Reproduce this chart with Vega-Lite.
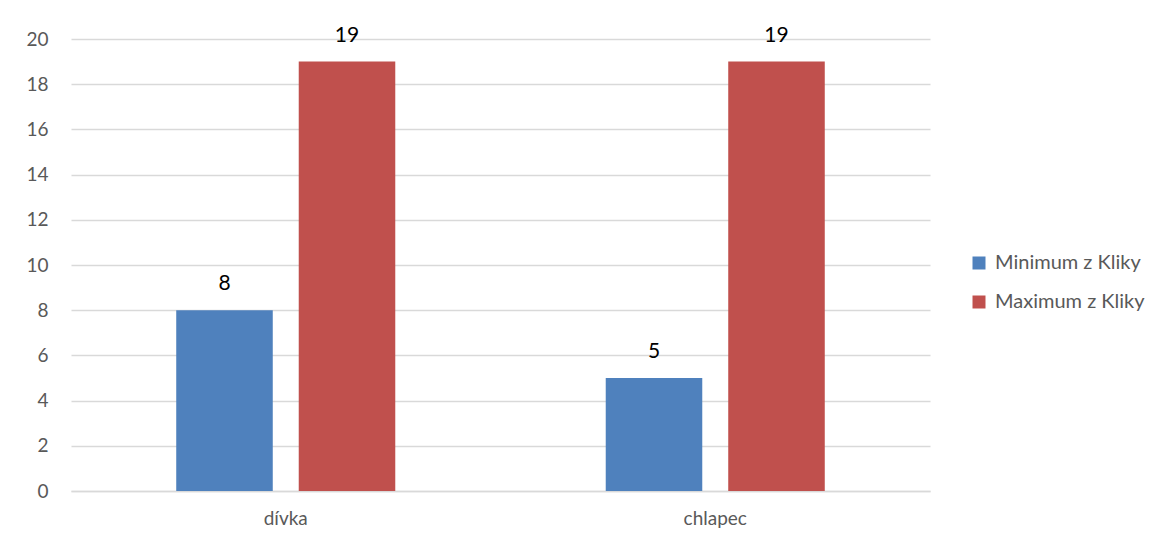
{
  "$schema": "https://vega.github.io/schema/vega-lite/v6.json",
  "autosize": "none",
  "width": 859,
  "height": 452,
  "padding": {"left": 71, "top": 39, "right": 241, "bottom": 54},
  "background": "white",
  "config": {
    "font": "Lato",
    "view": {"stroke": null},
    "axis": {"labelFont": "Lato", "labelColor": "#595959", "labelFontSize": 19, "gridColor": "#d9d9d9", "gridWidth": 1.3, "ticks": false, "title": null, "labelOverlap": false}
  },
  "data": {
    "values": [
      {"pohlavi": "dívka", "serie": "Minimum z Kliky", "hodnota": 8},
      {"pohlavi": "dívka", "serie": "Maximum z Kliky", "hodnota": 19},
      {"pohlavi": "chlapec", "serie": "Minimum z Kliky", "hodnota": 5},
      {"pohlavi": "chlapec", "serie": "Maximum z Kliky", "hodnota": 19}
    ]
  },
  "encoding": {
    "x": {
      "field": "pohlavi", "type": "nominal", "sort": ["dívka", "chlapec"],
      "scale": {"paddingInner": 0, "paddingOuter": 0},
      "axis": {"labelAngle": 0, "labelPadding": 18, "domainColor": "#d9d9d9", "domainWidth": 1.3, "grid": false}
    },
    "xOffset": {
      "field": "serie", "type": "nominal", "sort": ["Minimum z Kliky", "Maximum z Kliky"],
      "scale": {"paddingInner": 0.212, "paddingOuter": 0.859}
    },
    "y": {
      "field": "hodnota", "type": "quantitative",
      "scale": {"domain": [0, 20], "nice": false},
      "axis": {"values": [0, 2, 4, 6, 8, 10, 12, 14, 16, 18, 20], "domain": false, "labelPadding": 23}
    }
  },
  "layer": [
    {
      "mark": {"type": "bar"},
      "encoding": {
        "color": {
          "field": "serie", "type": "nominal",
          "sort": ["Minimum z Kliky", "Maximum z Kliky"],
          "scale": {"domain": ["Minimum z Kliky", "Maximum z Kliky"], "range": ["#4F81BD", "#C0504D"]},
          "legend": {
            "title": null, "orient": "none", "legendX": 898, "legendY": 214,
            "symbolType": "square", "symbolSize": 169, "symbolStrokeWidth": 0,
            "labelFont": "Lato", "labelFontSize": 20, "labelColor": "#595959",
            "labelOffset": 6, "rowPadding": 19
          }
        }
      }
    },
    {
      "mark": {"type": "text", "dy": -26, "fontSize": 21, "color": "black", "font": "Lato"},
      "encoding": {"text": {"field": "hodnota", "type": "quantitative"}}
    }
  ]
}
